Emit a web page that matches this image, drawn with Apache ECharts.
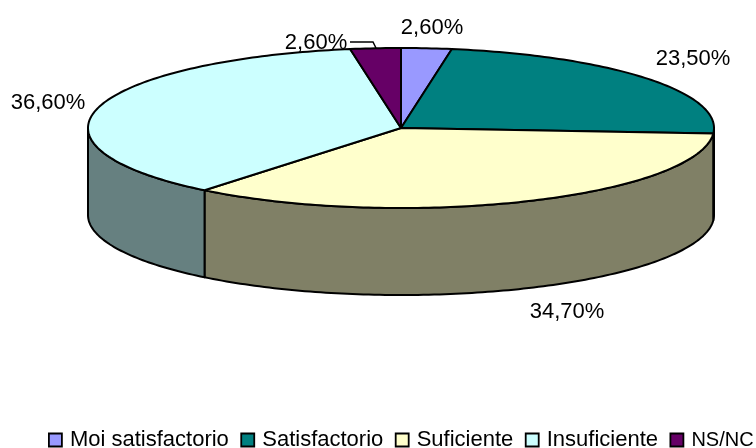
<!DOCTYPE html>
<html>
<head>
<meta charset="utf-8">
<style>html,body{margin:0;padding:0;background:#fff}#c{width:756px;height:448px}</style>
<script src="https://cdn.jsdelivr.net/npm/echarts@6/dist/echarts.min.js"></script>
</head>
<body>
<div id="c"></div>
<script>
const categories = ['Moi satisfactorio', 'Satisfactorio', 'Suficiente', 'Insuficiente', 'NS/NC'];
const values = [2.6, 23.5, 34.7, 36.6, 2.6];
const topColors = ['#9999FF', '#008080', '#FFFFCC', '#CCFFFF', '#660066'];
const sideColors = ['#4D4D80', '#004040', '#808066', '#668080', '#330033'];
const labelCenters = [[432, 28], [693, 59], [567, 312], [48, 103], [316, 43]];

const GRID = { left: 88, top: 48, width: 626, height: 247 };
const DEPTH = 87 / 80;            // wall height in units of the ellipse's vertical radius
const total = values.reduce((a, b) => a + b, 0);
const toRad = Math.PI / 180;

function arc(api, from, to, drop) {
  const pts = [];
  const n = Math.max(1, Math.ceil(to - from));
  for (let i = 0; i <= n; i++) {
    const t = (from + (to - from) * i / n) * toRad;
    pts.push(api.coord([Math.sin(t), Math.cos(t) - drop]));
  }
  return pts;
}

function renderSlice(params, api) {
  const idx = params.seriesIndex;
  const before = values.slice(0, idx).reduce((a, b) => a + b, 0);
  const start = before / total * 360;
  const end = (before + values[idx]) / total * 360;
  const stroke = { stroke: '#000', lineWidth: 2, lineJoin: 'round' };
  const children = [];

  const wallFrom = Math.max(start, 90), wallTo = Math.min(end, 270);
  if (wallTo > wallFrom) {
    children.push({
      type: 'polygon',
      shape: { points: arc(api, wallFrom, wallTo, 0).concat(arc(api, wallFrom, wallTo, DEPTH).reverse()) },
      style: Object.assign({ fill: sideColors[idx] }, stroke)
    });
  }
  children.push({
    type: 'polygon',
    shape: { points: [api.coord([0, 0])].concat(arc(api, start, end, 0)) },
    style: Object.assign({ fill: topColors[idx] }, stroke)
  });
  if (idx === values.length - 1) {
    children.push({
      type: 'polyline',
      shape: { points: [[350, 42], [373, 42], [376, 48]] },
      style: { stroke: '#000', lineWidth: 1.5, fill: null },
      z2: 20
    });
  }
  children.push({
    type: 'text',
    z2: 30,
    style: {
      text: values[idx].toFixed(2).replace('.', ',') + '%',
      x: labelCenters[idx][0], y: labelCenters[idx][1],
      align: 'center', verticalAlign: 'middle',
      font: '22px "Liberation Sans", Arial, sans-serif', fill: '#000'
    }
  });
  return { type: 'group', children };
}

const chart = echarts.init(document.getElementById('c'), null, { renderer: 'canvas' });
chart.setOption({
  animation: false,
  backgroundColor: '#fff',
  grid: GRID,
  xAxis: { type: 'value', min: -1, max: 1, show: false },
  yAxis: { type: 'value', min: -1 - DEPTH, max: 1, show: false },
  legend: {
    data: categories.map((name, i) => i === categories.length - 1 ? { name, textStyle: { fontSize: 20 } } : { name }),
    left: 48, top: 429, width: 800,
    padding: 0,
    icon: 'rect',
    itemWidth: 13, itemHeight: 13, itemGap: 11.5,
    selectedMode: false,
    itemStyle: { borderColor: '#000', borderWidth: 1.8 },
    textStyle: { fontFamily: '"Liberation Sans", Arial, sans-serif', fontSize: 22, color: '#000', padding: [0, 0, 0, 3] }
  },
  series: categories.map((name, i) => ({
    type: 'custom',
    name,
    coordinateSystem: 'cartesian2d',
    clip: false,
    itemStyle: { color: topColors[i] },
    data: [[0, values[i]]],
    renderItem: renderSlice
  }))
});
</script>
</body>
</html>
